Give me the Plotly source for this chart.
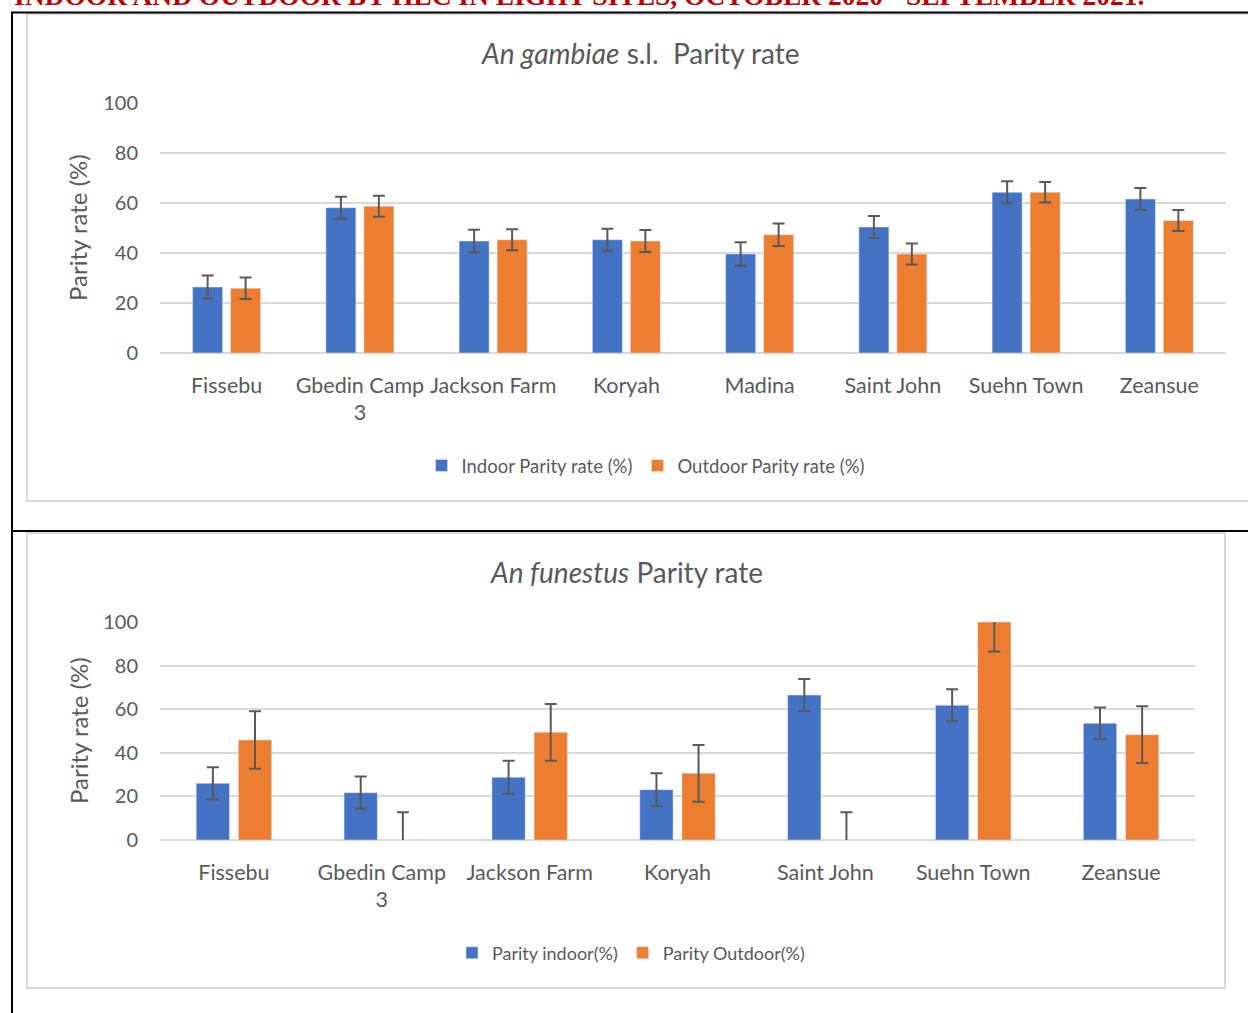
import plotly.graph_objects as go

W, H = 1248, 1013

# ---------------- data ----------------
gam_sites = ["Fissebu", "Gbedin Camp<br>3", "Jackson Farm", "Koryah", "Madina",
             "Saint John", "Suehn Town", "Zeansue"]
gam_indoor = [26.4, 58.1, 44.8, 45.3, 39.6, 50.4, 64.3, 61.6]
gam_indoor_err = [4.6, 4.4, 4.5, 4.4, 4.7, 4.4, 4.4, 4.4]
gam_outdoor = [25.9, 58.7, 45.3, 44.8, 47.3, 39.6, 64.3, 53.0]
gam_outdoor_err = [4.3, 4.2, 4.2, 4.4, 4.5, 4.2, 4.1, 4.2]

fun_sites = ["Fissebu", "Gbedin Camp<br>3", "Jackson Farm", "Koryah",
             "Saint John", "Suehn Town", "Zeansue"]
fun_indoor = [26.0, 21.7, 28.8, 23.1, 66.5, 61.8, 53.5]
fun_indoor_err = [7.4, 7.4, 7.6, 7.5, 7.3, 7.3, 7.3]
fun_outdoor = [45.9, 0, 49.4, 30.6, 0, 100, 48.3]
fun_outdoor_err = [13.2, 12.7, 13.0, 13.0, 12.7, 13.5, 13.0]

y_ticks = [0, 20, 40, 60, 80, 100]

BLUE = "#4472C4"
ORANGE = "#ED7D31"
GREY_TXT = "#595959"
GRID = "#d9d9d9"
FONT = "Lato"


def px(x):
    return x / W


def py(y):
    return 1 - y / H


def err(vals):
    return dict(type="data", array=vals, visible=True, color=GREY_TXT,
                thickness=2, width=6)


fig = go.Figure()
fig.add_trace(go.Bar(x=gam_sites, y=gam_indoor, name="Indoor Parity rate (%)",
                     marker_color=BLUE, error_y=err(gam_indoor_err),
                     xaxis="x", yaxis="y", legend="legend"))
fig.add_trace(go.Bar(x=gam_sites, y=gam_outdoor, name="Outdoor Parity rate (%)",
                     marker_color=ORANGE, error_y=err(gam_outdoor_err),
                     xaxis="x", yaxis="y", legend="legend"))
fig.add_trace(go.Bar(x=fun_sites, y=fun_indoor, name="Parity indoor(%)",
                     marker_color=BLUE, error_y=err(fun_indoor_err),
                     xaxis="x2", yaxis="y2", legend="legend2"))
fig.add_trace(go.Bar(x=fun_sites, y=fun_outdoor, name="Parity Outdoor(%)",
                     marker_color=ORANGE, error_y=err(fun_outdoor_err),
                     xaxis="x2", yaxis="y2", legend="legend2"))

xcommon = dict(showgrid=False, zeroline=False, showline=False, ticks="",
               tickfont=dict(size=21.5, color=GREY_TXT, family=FONT),
               ticklabelstandoff=17, fixedrange=True, automargin=False)
ycommon = dict(range=[0, 100], tickvals=y_ticks, showgrid=True, gridcolor=GRID,
               gridwidth=2, zeroline=True, zerolinecolor=GRID, zerolinewidth=2,
               showline=False, ticks="",
               tickfont=dict(size=20, color=GREY_TXT, family=FONT),
               ticklabelstandoff=21, fixedrange=True, automargin=False)

shapes = [
    # chart boxes
    dict(type="rect", xref="paper", yref="paper", x0=px(27), x1=px(1252),
         y0=py(501), y1=py(14), line=dict(color=GRID, width=2), fillcolor="white",
         layer="below"),
    dict(type="rect", xref="paper", yref="paper", x0=px(27), x1=px(1225),
         y0=py(988), y1=py(533), line=dict(color=GRID, width=2), fillcolor="white",
         layer="below"),
    # table borders
    dict(type="line", xref="paper", yref="paper", x0=px(11), x1=px(1250),
         y0=py(12.5), y1=py(12.5), line=dict(color="black", width=2)),
    dict(type="line", xref="paper", yref="paper", x0=px(12), x1=px(12),
         y0=py(12), y1=py(1015), line=dict(color="black", width=2)),
    dict(type="line", xref="paper", yref="paper", x0=px(12), x1=px(1250),
         y0=py(531), y1=py(531), line=dict(color="black", width=2)),
]

annotations = [
    dict(text="<b>INDOOR AND OUTDOOR BY HLC IN EIGHT SITES, OCTOBER 2020 - SEPTEMBER 2021.</b>",
         xref="paper", yref="paper", x=px(12), y=py(13), xanchor="left",
         yanchor="bottom", showarrow=False,
         font=dict(family="Liberation Serif", size=27.5, color="#C00000")),
    dict(text="<i>An gambiae</i> s.l.\u00a0\u00a0Parity rate", xref="paper", yref="paper",
         x=px(641), y=py(53), xanchor="center", yanchor="middle", showarrow=False,
         font=dict(family=FONT, size=28, color=GREY_TXT)),
    dict(text="<i>An funestus</i> Parity rate", xref="paper", yref="paper",
         x=px(626), y=py(572), xanchor="center", yanchor="middle", showarrow=False,
         font=dict(family=FONT, size=28, color=GREY_TXT)),
    dict(text="Parity rate (%)", xref="paper", yref="paper", x=px(78), y=py(228),
         xanchor="center", yanchor="middle", textangle=-90, showarrow=False,
         font=dict(family=FONT, size=24, color=GREY_TXT)),
    dict(text="Parity rate (%)", xref="paper", yref="paper", x=px(78), y=py(731),
         xanchor="center", yanchor="middle", textangle=-90, showarrow=False,
         font=dict(family=FONT, size=24, color=GREY_TXT)),
]

fig.update_layout(
    width=W, height=H,
    margin=dict(l=0, r=0, t=0, b=0, autoexpand=False),
    paper_bgcolor="white", plot_bgcolor="rgba(0,0,0,0)",
    barmode="group", bargap=0.43, bargroupgap=0.21,
    font=dict(family=FONT, color=GREY_TXT),
    xaxis=dict(domain=[px(160), px(1226)], anchor="y", **xcommon),
    yaxis=dict(domain=[py(353), py(103)], anchor="x", **ycommon),
    xaxis2=dict(domain=[px(160), px(1195)], anchor="y2", **xcommon),
    yaxis2=dict(domain=[py(840), py(622)], anchor="x2", **ycommon),
    legend=dict(orientation="h", x=px(646), y=py(466), xanchor="center",
                yanchor="middle", font=dict(size=18.5, color=GREY_TXT, family=FONT),
                bgcolor="rgba(0,0,0,0)", itemwidth=30),
    legend2=dict(orientation="h", x=px(631), y=py(953), xanchor="center",
                 yanchor="middle", font=dict(size=18, color=GREY_TXT, family=FONT),
                 bgcolor="rgba(0,0,0,0)", itemwidth=30),
    shapes=shapes,
    annotations=annotations,
    showlegend=True,
)

fig.write_html("out.html")
